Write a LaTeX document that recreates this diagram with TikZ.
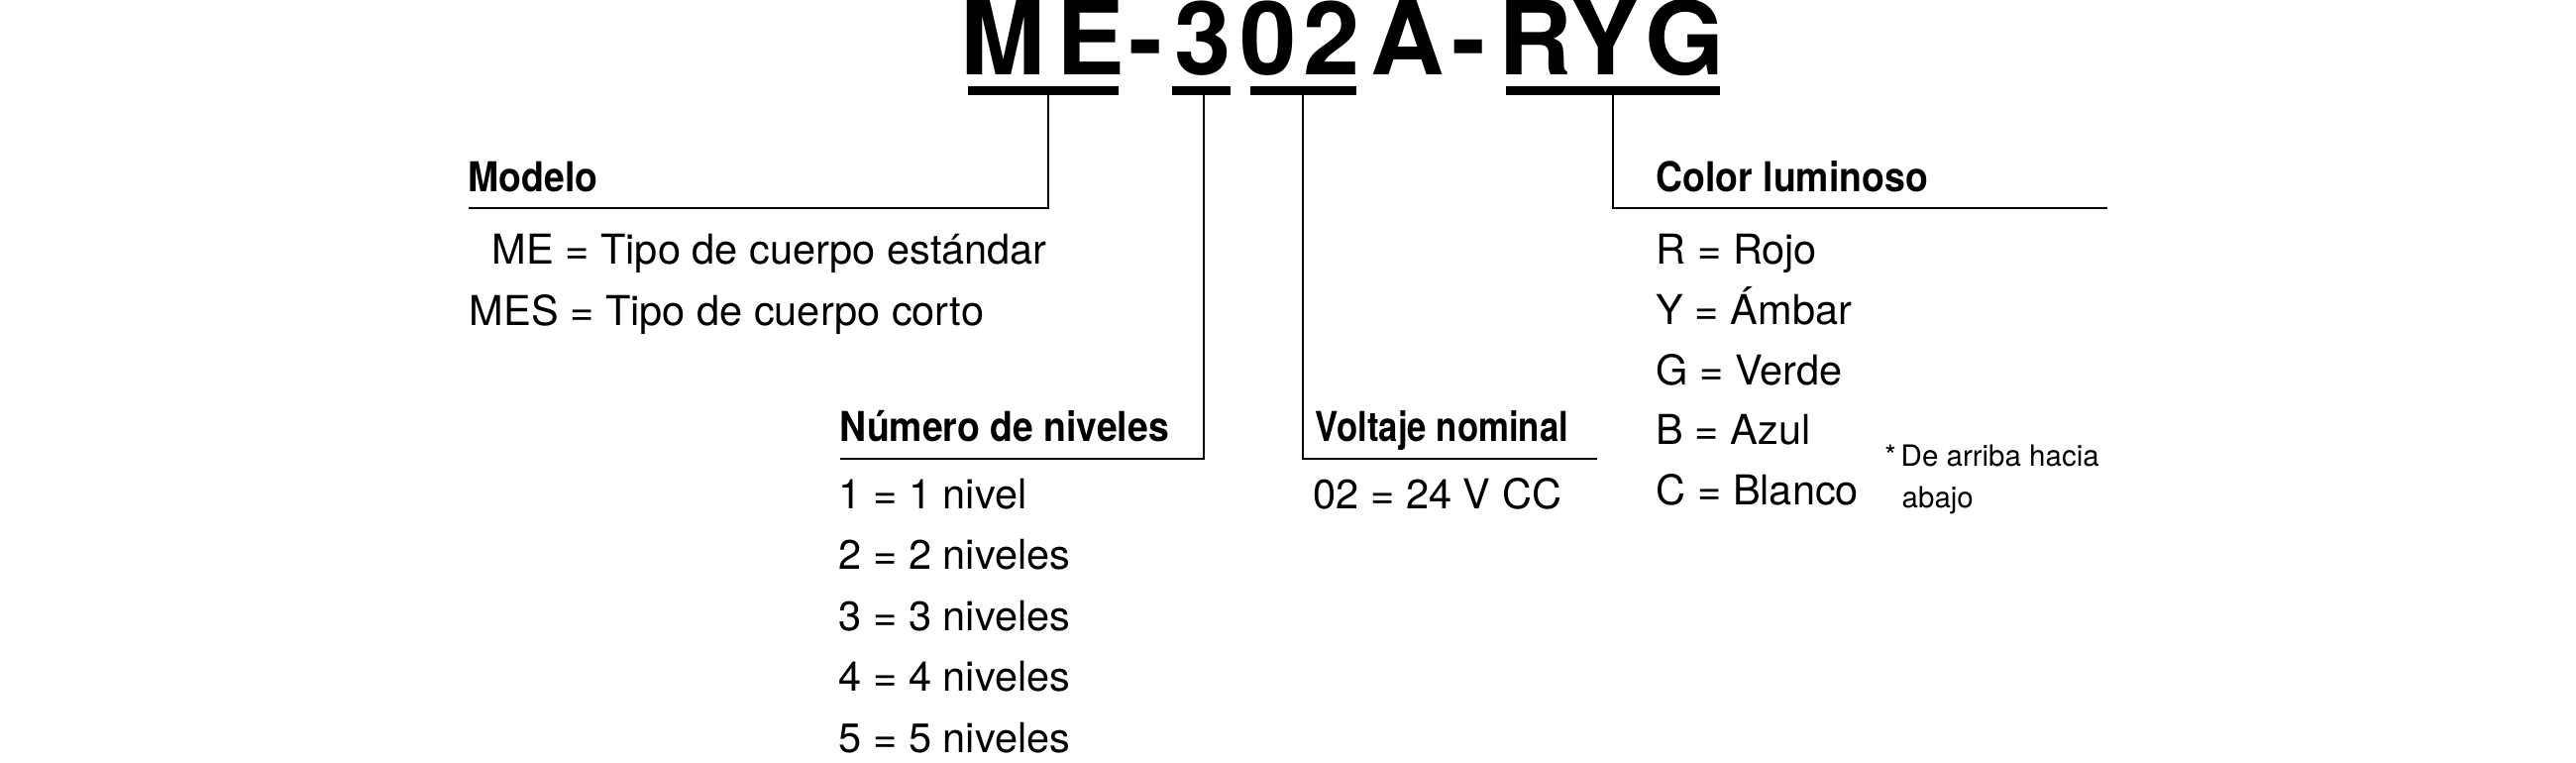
\documentclass[tikz,border=0pt]{standalone}
\usepackage{graphicx}
\usepackage{fontspec}
\setmainfont{TeX Gyre Heros}
\newfontfamily\headfont[FakeStretch=0.9]{TeX Gyre Heros}
\begin{document}
\begin{tikzpicture}[x=0.01cm,y=-0.01cm,
  ttl/.style={font=\fontsize{29.3}{30}\selectfont\bfseries, inner sep=0pt, anchor=base},
  head/.style={font=\headfont\bfseries\fontsize{11.81}{14}\selectfont, inner sep=0pt, anchor=base west},
  item/.style={font=\fontsize{11.81}{14}\selectfont, inner sep=0pt, anchor=base west},
  note/.style={font=\fontsize{8.39}{10}\selectfont, inner sep=0pt, anchor=base west},
  lead/.style={line width=0.5pt, draw=black},
]
\useasboundingbox (0,0) rectangle (2600,770);

% title
\node[ttl] (t1) at (1012,76) {M};
\node[ttl] (t2) at (1101,76) {E};
\node[ttl] (t3) at (1157,76) {-};
\node[ttl] (t4) at (1214.5,76) {3};
\node[ttl] (t5) at (1280.5,76) {0};
\node[ttl] (t6) at (1344,76) {2};
\node[ttl] (t7) at (1421,76) {A};
\node[ttl] (t8) at (1483,76) {-};
\node[ttl] (t9) at (1550,76) {R};
\node[ttl] (t10) at (1620,76) {Y};
\node[ttl] (t11) at (1701,76) {G};

% underline bars
\fill (977,87) rectangle (1129,96);
\fill (1183,87) rectangle (1242,96);
\fill (1262,87) rectangle (1369,96);
\fill (1520,87) rectangle (1736,96);

% connector points
\coordinate (bME) at (1058,96);
\coordinate (kME) at (1058,210);
\coordinate (eME) at (473,210);
\coordinate (bN) at (1215,96);
\coordinate (kN) at (1215,463);
\coordinate (eN) at (848,463);
\coordinate (bV) at (1315,96);
\coordinate (kV) at (1315,463);
\coordinate (eV) at (1612,463);
\coordinate (bC) at (1628,96);
\coordinate (kC) at (1628,210);
\coordinate (eC) at (2127,210);

\draw[lead] (bME) -- (kME) -- (eME);
\draw[lead] (bN) -- (kN) -- (eN);
\draw[lead] (bV) -- (kV) -- (eV);
\draw[lead] (bC) -- (kC) -- (eC);

% Modelo
\node[head] (hM) at (472,193) {Modelo};
\node[item] (m1) at (496,267) {ME = Tipo de cuerpo estándar};
\node[item] (m2) at (473,328) {MES = Tipo de cuerpo corto};

% Numero de niveles
\node[head] (hN) at (847,445) {Número de niveles};
\node[item] (n1) at (846,513) {1 = 1 nivel};
\node[item] (n2) at (846,574.5) {2 = 2 niveles};
\node[item] (n3) at (846,636) {3 = 3 niveles};
\node[item] (n4) at (846,697.5) {4 = 4 niveles};
\node[item] (n5) at (846,759) {5 = 5 niveles};

% Voltaje
\node[head] (hV) at (1327,445) {\scalebox{0.93}[1]{Voltaje nominal}};
\node[item] (v1) at (1325,513) {02 = 24 V CC};

% Color
\node[head] (hC) at (1671,193) {Color luminoso};
\node[item] (c1) at (1671,267) {R = Rojo};
\node[item] (c2) at (1671,327.5) {Y = Ámbar};
\node[item] (c3) at (1671,388) {G = Verde};
\node[item] (c4) at (1671,448.5) {B = Azul};
\node[item] (c5) at (1671,509.5) {C = Blanco};

% note
\node[note] (nt1) at (1918,470) {\llap{*\,}De arriba hacia};
\node[note] (nt2) at (1919,512) {abajo};
\end{tikzpicture}
\end{document}
